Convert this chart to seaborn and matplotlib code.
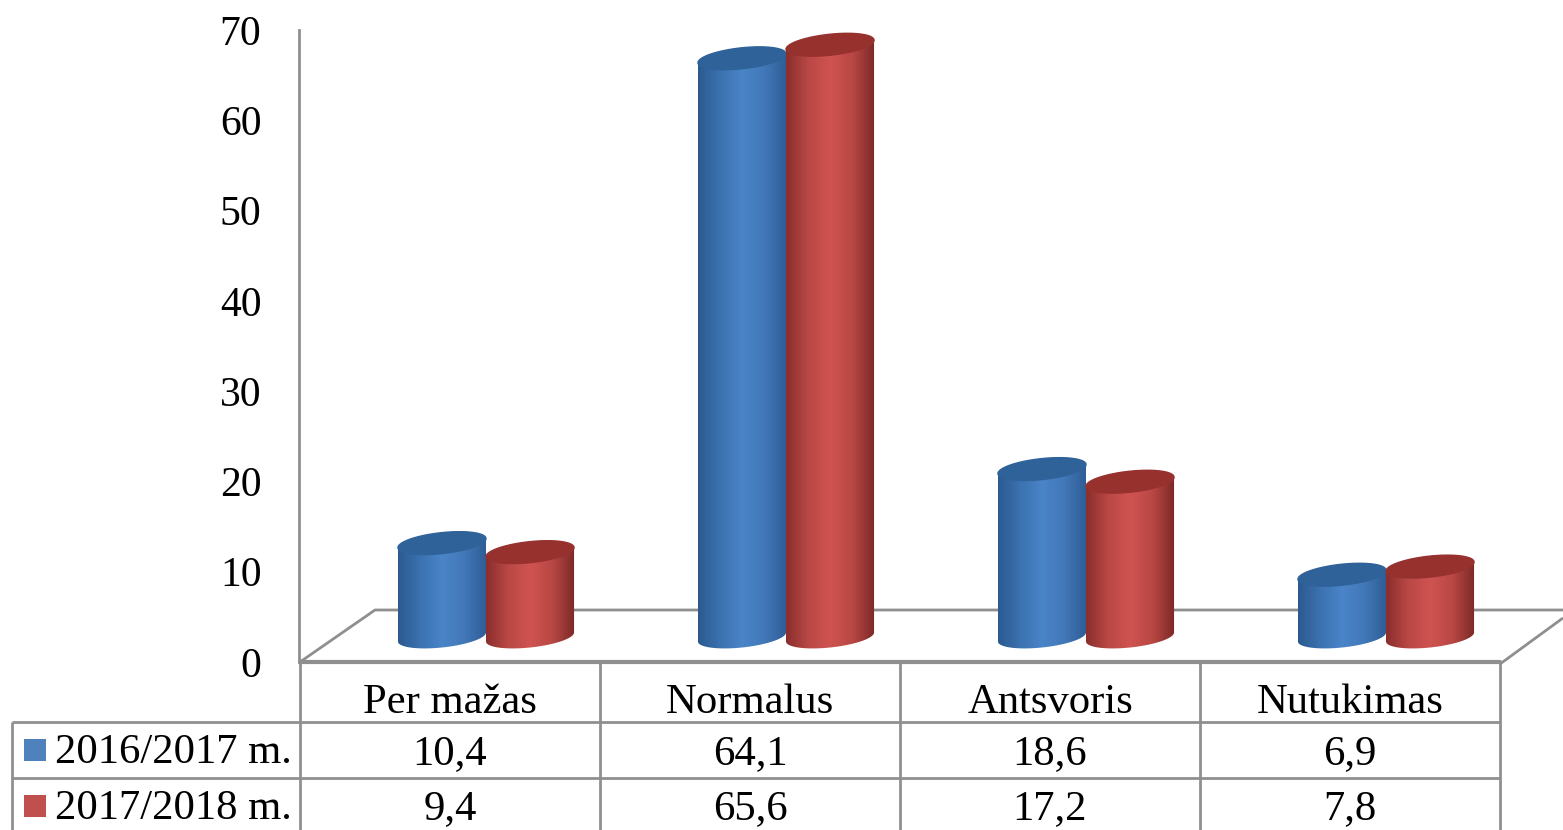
import numpy as np
import pandas as pd
import matplotlib
matplotlib.use('Agg')
import matplotlib.pyplot as plt
from matplotlib.colors import LinearSegmentedColormap
from matplotlib.patches import Polygon
import seaborn as sns

categories = ['Per mažas', 'Normalus', 'Antsvoris', 'Nutukimas']
years = ['2016/2017 m.', '2017/2018 m.']
values_2016 = [10.4, 64.1, 18.6, 6.9]
values_2017 = [9.4, 65.6, 17.2, 7.8]
labels_2016 = ['10,4', '64,1', '18,6', '6,9']
labels_2017 = ['9,4', '65,6', '17,2', '7,8']
y_ticks = [0, 10, 20, 30, 40, 50, 60, 70]

legend_colors = ['#4f81bd', '#c0504d']
side_colors = [
    ['#2c5a90', '#3b72b0', '#4a85c8', '#4278b8', '#2e5c94'],
    ['#8a2e2c', '#b94845', '#d05451', '#b84744', '#7c2927'],
]
cap_colors = ['#2f6299', '#96312e']
grid_color = '#8f8f8f'

W, H = 1563, 830
sns.set_theme(style='white')
plt.rcParams['font.family'] = ['Liberation Serif', 'DejaVu Serif']
FS = 30
TABLE_FS = 30.7

fig = plt.figure(figsize=(W / 100, H / 100), dpi=100)


def axes_px(left, top, right, bottom):
    return fig.add_axes([left / W, 1 - bottom / H, (right - left) / W, (bottom - top) / H])


# pixel overlay for the floor and the table ruling
frame = axes_px(0, 0, W, H)
frame.set_xlim(0, W)
frame.set_ylim(H, 0)
frame.axis('off')

# value axis
ax = axes_px(299, 30, 1500, 662)
ax.set_facecolor('none')
ax.set_ylim(0, 70)
ax.set_xlim(0, 1)
ax.set_yticks(y_ticks)
ax.set_xticks([])
ax.tick_params(axis='y', length=0, pad=27, labelsize=FS, labelcolor='black')
sns.despine(ax=ax, top=True, right=True, bottom=True)
ax.spines['left'].set_color(grid_color)
ax.spines['left'].set_linewidth(2)

# floor of the 3D box
floor_kw = dict(color=grid_color, lw=2, solid_capstyle='butt')
frame.plot([300, 375, W], [662, 610, 610], **floor_kw)
frame.plot([1500, W], [664, 618], **floor_kw)

# table ruling
for x in [300, 600, 900, 1200, 1500]:
    frame.plot([x, x], [662, H], **floor_kw)
frame.plot([300, 1500], [662, 662], color=grid_color, lw=3)
for y in [722, 778]:
    frame.plot([12, 1500], [y, y], **floor_kw)
frame.plot([12, 12], [722, H], **floor_kw)

# table text
for i, cat in enumerate(categories):
    xc = 300 + 300 * (i + 0.5)
    frame.text(xc, 703, cat, ha='center', va='center', fontsize=TABLE_FS, color='black')
    frame.text(xc, 754, labels_2016[i], ha='center', va='center', fontsize=TABLE_FS, color='black')
    frame.text(xc, 809, labels_2017[i], ha='center', va='center', fontsize=TABLE_FS, color='black')
for year, color, yc, yt in zip(years, legend_colors, [750, 806], [753, 809]):
    frame.fill([24, 46, 46, 24], [yc - 11, yc - 11, yc + 11, yc + 11], color=color, lw=0)
    frame.text(55, yt, year, ha='left', va='center', fontsize=TABLE_FS, color='black')

# bars sit on a plot shifted back into the 3D box
bar_ax = axes_px(336, 5, 1536, 637)
bar_ax.set_facecolor('none')
df = pd.DataFrame({
    'category': categories * 2,
    'year': [years[0]] * 4 + [years[1]] * 4,
    'value': values_2016 + values_2017,
})
sns.barplot(data=df, x='category', y='value', hue='year', palette=legend_colors,
            width=0.587, saturation=1, legend=False, ax=bar_ax)
bar_ax.set_xlim(-0.5, 3.5)
bar_ax.set_ylim(0, 70)
bar_ax.axis('off')

CAP_B = 10.5   # half height of the ellipse, px
SHEAR = 4.5    # right side of the ellipse rises by this many px
to_disp = bar_ax.transData
to_frame = frame.transData.inverted()


def ellipse(cx, cy, a, t):
    return np.c_[cx + a * np.cos(t), cy + CAP_B * np.sin(t) - SHEAR * np.cos(t)]


bars = list(bar_ax.patches)
for n, bar in enumerate(bars):
    bar.set_visible(False)
    s = n // 4  # first four bars are the first series
    x0, w, h = bar.get_x(), bar.get_width(), bar.get_height()
    # bar corners in frame pixels
    (px0, py0), (px1, py1) = to_frame.transform(
        to_disp.transform([(x0, 0), (x0 + w, h)]))
    cx, a = (px0 + px1) / 2, (px1 - px0) / 2
    z = 5 + s
    t = np.linspace(0, np.pi, 60)
    low = ellipse(cx, py0, a, t)
    outline = np.vstack([low, [[px0, py1 + SHEAR]], [[px1, py1 - SHEAR]]])
    body = Polygon(outline, closed=True, transform=frame.transData, fc='none', ec='none')
    frame.add_patch(body)
    cmap = LinearSegmentedColormap.from_list('side', side_colors[s])
    im = frame.imshow(np.linspace(0, 1, 256)[None, :], cmap=cmap, aspect='auto',
                      extent=[px0, px1, py0 + 20, py1 - 20], zorder=z)
    im.set_clip_path(body)
    frame.set_xlim(0, W)
    frame.set_ylim(H, 0)
    t = np.linspace(0, 2 * np.pi, 120)
    cap = Polygon(ellipse(cx, py1, a, t), closed=True, fc=cap_colors[s],
                  ec=cap_colors[s], lw=1, zorder=z + 0.5)
    frame.add_patch(cap)
    body.set_zorder(z)

# the bars are drawn on the overlay so they cover the floor line
frame.set_zorder(1)
ax.set_zorder(2)
bar_ax.set_zorder(0)

fig.savefig('out.png', dpi=100, facecolor='white')
